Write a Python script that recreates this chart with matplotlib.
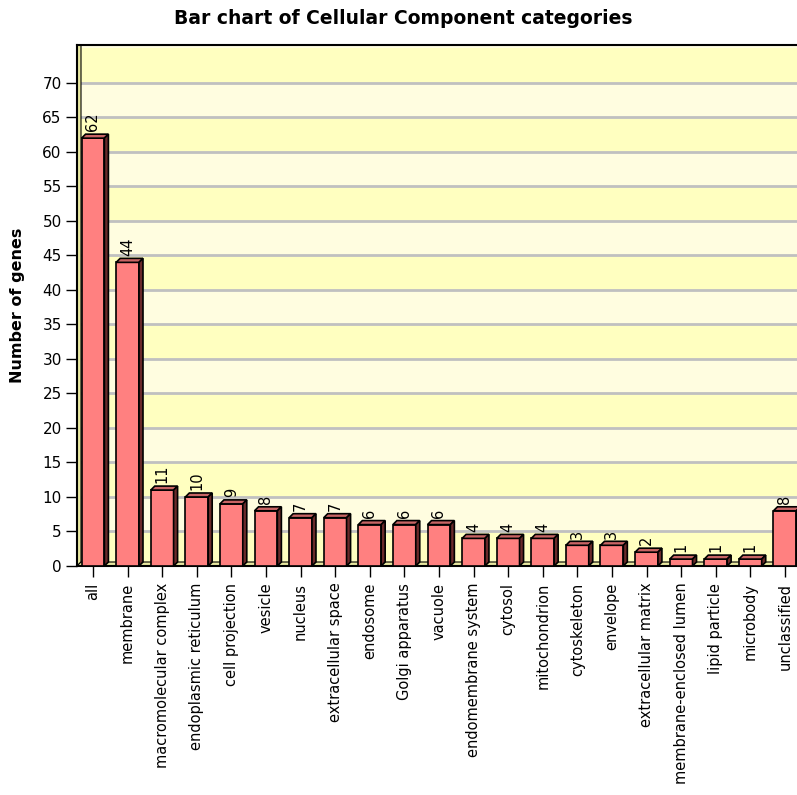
import matplotlib
matplotlib.use('Agg')
import matplotlib.pyplot as plt
from matplotlib.patches import Polygon, Rectangle

categories = ['all', 'membrane', 'macromolecular complex', 'endoplasmic reticulum',
              'cell projection', 'vesicle', 'nucleus', 'extracellular space',
              'endosome', 'Golgi apparatus', 'vacuole', 'endomembrane system',
              'cytosol', 'mitochondrion', 'cytoskeleton', 'envelope',
              'extracellular matrix', 'membrane-enclosed lumen', 'lipid particle',
              'microbody', 'unclassified']
counts = [62, 44, 11, 10, 9, 8, 7, 7, 6, 6, 6, 4, 4, 4, 3, 3, 2, 1, 1, 1, 8]
yticks = list(range(0, 75, 5))

face = '#ff8080'
top_col = '#c86464'
side_col = '#6a2a2a'
band_dark = '#ffffc0'
band_light = '#fffde0'

fig = plt.figure(figsize=(7.97, 7.95), dpi=100)
ax = fig.add_axes([77 / 797, 229 / 795, 720 / 797, 521 / 795])

xmin, xmax = -0.462, 20.35
ymax = 75.5
ax.set_xlim(xmin, xmax)
ax.set_ylim(0, ymax)

# alternating background bands
for y0 in range(0, 80, 5):
    c = band_dark if (y0 // 5) % 2 == 0 else band_light
    ax.axhspan(y0, y0 + 5, color=c, zorder=0, lw=0)
for y in yticks[1:]:
    ax.axhline(y, color='#c0c0c0', lw=2, zorder=1)

# 3d offset in data units (about 4 px each way)
dx = 4 / 34.6
dy = 4 / 6.9

# left wall and floor of the 3d plot
ax.add_patch(Polygon([(xmin, 0), (xmin + dx, dy), (xmin + dx, ymax), (xmin, ymax)],
                     closed=True, facecolor='#e8e8a0', edgecolor='black', lw=0.8,
                     zorder=2))
ax.add_patch(Polygon([(xmin, 0), (xmin + dx, dy), (xmax + 1, dy), (xmax + 1, 0)],
                     closed=True, facecolor='#e8e8a0', edgecolor='black', lw=0.8,
                     zorder=2))

w = 0.66
for i, v in enumerate(counts):
    x0, x1 = i - w / 2, i + w / 2
    ax.add_patch(Rectangle((x0, 0), w, v, facecolor=face, edgecolor='black',
                           lw=1.2, zorder=3))
    ax.add_patch(Polygon([(x0, v), (x0 + dx, v + dy), (x1 + dx, v + dy), (x1, v)],
                         closed=True, facecolor=top_col, edgecolor='black',
                         lw=1.2, zorder=3))
    ax.add_patch(Polygon([(x1, 0), (x1 + dx, dy), (x1 + dx, v + dy), (x1, v)],
                         closed=True, facecolor=side_col, edgecolor='black',
                         lw=1.2, zorder=3))
    ax.text(i, v + dy + 0.4, str(v), rotation=90, ha='center', va='bottom',
            fontsize=10.5, zorder=4)

ax.set_xticks(range(len(categories)))
ax.set_xticklabels(categories, rotation=90, fontsize=10.5)
ax.set_yticks(yticks)
ax.set_yticklabels([str(t) for t in yticks], fontsize=11)
ax.tick_params(axis='x', length=8, width=1, pad=4)
ax.tick_params(axis='y', length=8, width=1, pad=3)

ax.spines['right'].set_visible(False)
ax.spines['top'].set_linewidth(1.5)
ax.spines['left'].set_linewidth(1.5)
ax.spines['bottom'].set_linewidth(1.5)

ax.set_ylabel('Number of genes', fontsize=11.5, fontweight='bold')
ax.yaxis.set_label_coords(-52 / 720, 0.5)
fig.text(403 / 797, 1 - 18 / 795, 'Bar chart of Cellular Component categories',
         ha='center', va='center', fontsize=13.5, fontweight='bold')

fig.savefig('out.png', dpi=100, facecolor='white')
